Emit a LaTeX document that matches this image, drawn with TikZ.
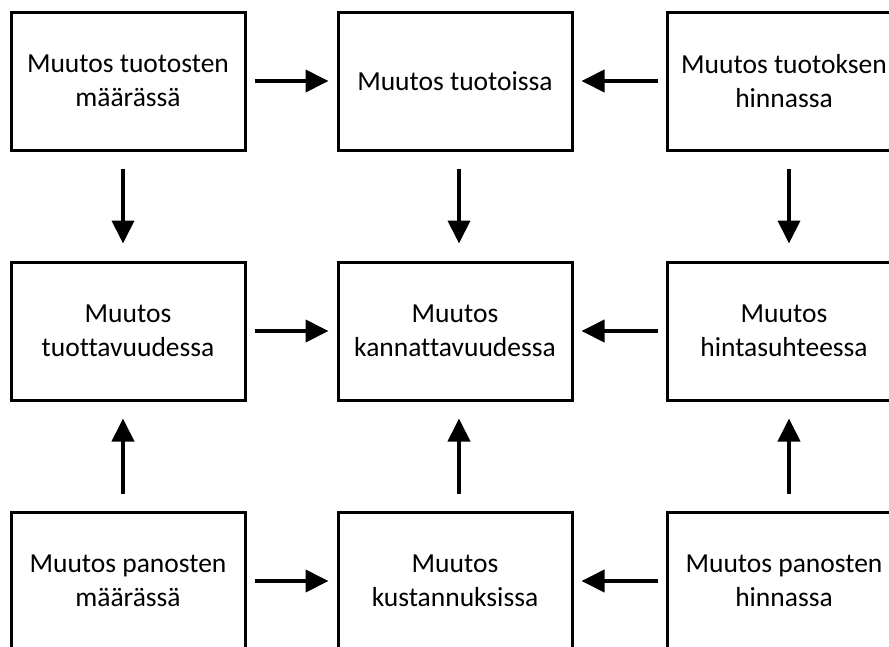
\documentclass[tikz,border=0pt]{standalone}
\usepackage{fontspec}
\setmainfont[Ligatures={NoCommon}]{Carlito}
\usetikzlibrary{arrows.meta}
\begin{document}
\begin{tikzpicture}[x=1pt,y=1pt,
  box/.style={draw,line width=3pt,minimum width=234pt,minimum height=138pt,
    inner sep=0pt,align=center,font=\fontsize{27.5}{33.5}\selectfont},
  arr/.style={line width=4pt,-{Triangle[length=23pt,width=22pt]}}]
\useasboundingbox (0,0) rectangle (889,-646);
\node[box] (a) at (128,-81) {Muutos tuotosten\\määrässä};
\node[box] (b) at (455,-81) {Muutos tuotoissa};
\node[box] (c) at (784,-81) {Muutos tuotoksen\\hinnassa};
\node[box] (d) at (128,-331) {Muutos\\tuottavuudessa};
\node[box] (e) at (455,-331) {Muutos\\kannattavuudessa};
\node[box] (f) at (784,-331) {Muutos\\hintasuhteessa};
\node[box] (g) at (128,-581) {Muutos panosten\\määrässä};
\node[box] (h) at (455,-581) {Muutos\\kustannuksissa};
\node[box] (i) at (784,-581) {Muutos panosten\\hinnassa};
\begin{scope}[shorten <=8pt,shorten >=8pt]
\draw[arr] (a) -- (b);
\draw[arr] (c) -- (b);
\draw[arr] (d) -- (e);
\draw[arr] (f) -- (e);
\draw[arr] (g) -- (h);
\draw[arr] (i) -- (h);
\end{scope}
\begin{scope}[shorten <=17pt,shorten >=17pt]
\draw[arr] ([xshift=-5pt]a.south) -- ([xshift=-5pt]d.north);
\draw[arr] ([xshift=4pt]b.south) -- ([xshift=4pt]e.north);
\draw[arr] ([xshift=5pt]c.south) -- ([xshift=5pt]f.north);
\draw[arr] ([xshift=-5pt]g.north) -- ([xshift=-5pt]d.south);
\draw[arr] ([xshift=4pt]h.north) -- ([xshift=4pt]e.south);
\draw[arr] ([xshift=5pt]i.north) -- ([xshift=5pt]f.south);
\end{scope}
\end{tikzpicture}
\end{document}
